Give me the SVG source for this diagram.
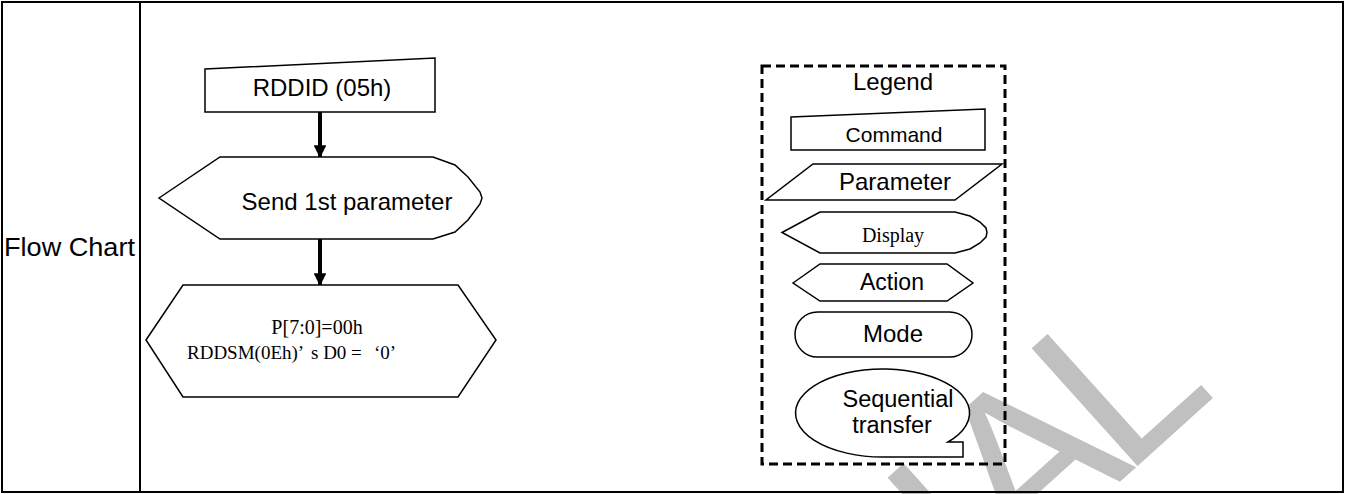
<svg xmlns="http://www.w3.org/2000/svg" width="1346" height="494" viewBox="0 0 1346 494">
<style>
.sans{font-family:"Liberation Sans",Arial,sans-serif;fill:#000}
.serif{font-family:"Liberation Serif","Times New Roman",serif;fill:#000}
.shape{fill:#fff;stroke:#000;stroke-width:1.5;stroke-linejoin:miter}
.conn{stroke:#000;stroke-width:4;fill:none}
.border{fill:none;stroke:#000;stroke-width:2}
</style>
<defs>
<marker id="arrow" viewBox="0 0 12 12" refX="11" refY="6" markerWidth="3.2" markerHeight="3.2" orient="auto" markerUnits="strokeWidth">
<path d="M0,0 L12,6 L0,12 Z" fill="#000"/>
</marker>
</defs>
<rect width="1346" height="494" fill="#fff"/>
<g id="watermark">
<text class="sans" transform="translate(963,623) rotate(-42)" font-size="230" style="fill:#c0c0c0"><tspan x="20">I</tspan><tspan x="80">A</tspan><tspan x="216">L</tspan></text>
</g>
<g id="table">
<rect class="border" x="2" y="2" width="1341" height="490"/>
<line class="border" x1="140" y1="2" x2="140" y2="492"/>
<text class="sans" x="4" y="256" font-size="25" textLength="131" lengthAdjust="spacingAndGlyphs">Flow Chart</text>
</g>
<g id="connectors">
<line class="conn" x1="320" y1="112" x2="320" y2="157" marker-end="url(#arrow)"/>
<line class="conn" x1="320" y1="239" x2="320" y2="285" marker-end="url(#arrow)"/>
</g>
<g id="node-rddid">
<polygon class="shape" points="205,69 435,58 435,112 205,112"/>
<text class="sans" x="322" y="96" font-size="24" text-anchor="middle">RDDID (05h)</text>
</g>
<g id="node-send">
<polygon class="shape" points="159,198 220,157 433,157 455,165 468,177 480,192 482,198 480,204 468,220 455,232 433,239 220,239"/>
<text class="sans" x="347" y="210" font-size="24" text-anchor="middle">Send 1st parameter</text>
</g>
<g id="node-action">
<polygon class="shape" points="146,340 183,285 458,285 496,340 458,397 183,397"/>
<text class="serif" x="317" y="334" font-size="20" text-anchor="middle">P[7:0]=00h</text>
<text class="serif" y="359" font-size="19"><tspan x="187">RDDSM(0Eh)’</tspan><tspan x="311">s D0 =</tspan><tspan x="374">‘0’</tspan></text>
</g>
<g id="legend">
<rect x="762" y="66" width="243" height="398" fill="none" stroke="#000" stroke-width="3" stroke-dasharray="9,5"/>
<text class="sans" x="893" y="90" font-size="24" text-anchor="middle">Legend</text>
<g id="legend-command">
<polygon class="shape" points="791,117 985,109 985,150 791,150"/>
<text class="sans" x="894" y="142" font-size="21" text-anchor="middle">Command</text>
</g>
<g id="legend-parameter">
<polygon class="shape" points="813,164 1002,164 955,200 766,200"/>
<text class="sans" x="895" y="190" font-size="24" text-anchor="middle">Parameter</text>
</g>
<g id="legend-display">
<polygon class="shape" points="782,232.5 820,212 955,212 970,216 980,222 986,228 987,232.5 986,237 980,243 970,249 955,253 820,253"/>
<text class="serif" x="893" y="242" font-size="20" text-anchor="middle">Display</text>
</g>
<g id="legend-action">
<polygon class="shape" points="793,283 820,264 947,264 973,283 947,301 820,301"/>
<text class="sans" x="892" y="290" font-size="23" text-anchor="middle">Action</text>
</g>
<g id="legend-mode">
<rect class="shape" x="795" y="312" width="177" height="45" rx="22.5" ry="22.5"/>
<text class="sans" x="893" y="342" font-size="24" text-anchor="middle">Mode</text>
</g>
<g id="legend-sequential">
<path class="shape" d="M948,442 A87,44 0 1 0 883,457 L963,457 L963,442 Z"/>
<text class="sans" x="898" y="407" font-size="23.5" text-anchor="middle">Sequential</text>
<text class="sans" x="892" y="433" font-size="23.5" text-anchor="middle">transfer</text>
</g>
</g>
</svg>
